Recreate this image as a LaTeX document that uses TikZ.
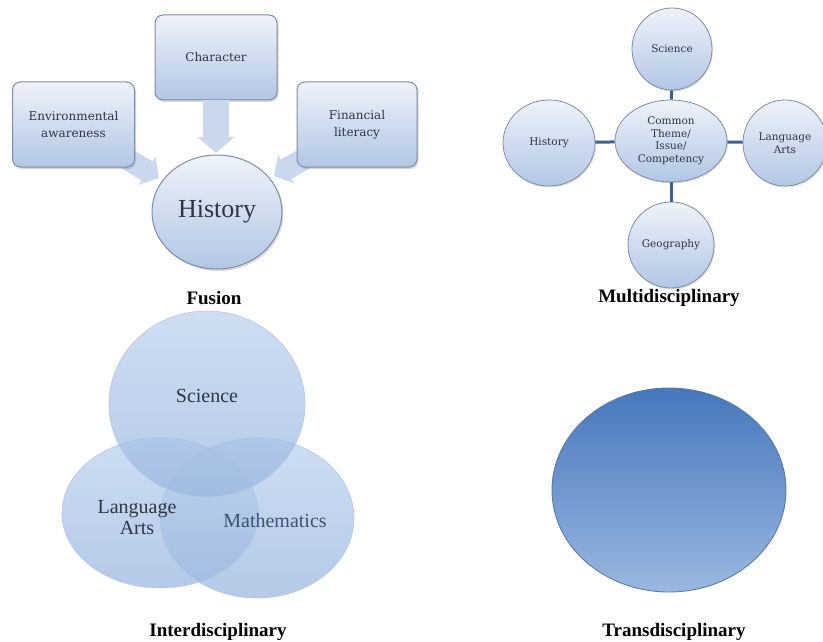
\documentclass[tikz,border=0pt]{standalone}
\usepackage{fontspec}
\setmainfont{Liberation Serif}
\newfontfamily\dserif{DejaVu Serif}
\usetikzlibrary{shapes.geometric,shadows,arrows.meta}
\definecolor{boxtop}{HTML}{EEF3FA}
\definecolor{boxbot}{HTML}{B2C6E4}
\definecolor{boxedge}{HTML}{7D8EA8}
\definecolor{arrowfill}{HTML}{CAD8ED}
\definecolor{txt}{HTML}{2E3644}
\definecolor{link}{HTML}{3F6090}
\definecolor{venntop}{HTML}{BED2ED}
\definecolor{vennbot}{HTML}{9BB7E1}
\definecolor{vennedge}{HTML}{B3C8E8}
\definecolor{mathtxt}{HTML}{3E5273}
\definecolor{transtop}{HTML}{4677BD}
\definecolor{transbot}{HTML}{9AB8E0}
\definecolor{transedge}{HTML}{5A7BA8}
\tikzset{
  fbox/.style={rectangle, rounded corners=8pt, draw=boxedge, line width=1pt,
    top color=boxtop, bottom color=boxbot, minimum width=122pt, minimum height=85pt,
    align=center, text=txt, font=\dserif\fontsize{12}{17}\selectfont,
    drop shadow={opacity=0.3, shadow xshift=1.5pt, shadow yshift=-2pt}},
  bigarrow/.style={line width=26pt, draw=arrowfill, -{Triangle[length=16pt,width=36pt]}},
  smallarrow/.style={line width=22pt, draw=arrowfill, -{Triangle[length=14pt,width=32pt]}},
  mell/.style={ellipse, draw=boxedge, line width=0.8pt, top color=boxtop, bottom color=boxbot,
    inner sep=0pt, align=center, text=txt, font=\dserif\fontsize{10.5}{12.5}\selectfont,
    drop shadow={opacity=0.25, shadow xshift=1pt, shadow yshift=-1.5pt}},
  mlink/.style={draw=link, line width=3pt},
  venn/.style={ellipse, inner sep=0pt, draw=vennedge, line width=0.6pt,
    top color=venntop, bottom color=vennbot, fill opacity=0.75},
  vlabel/.style={align=center, text=txt, font=\fontsize{20}{21}\selectfont},
  caption/.style={font=\bfseries\fontsize{19}{22}\selectfont, text=black}
}
\begin{document}
\begin{tikzpicture}[x=1pt,y=-1pt]
\useasboundingbox (0,0) rectangle (823,642);

% ---------------- Fusion ----------------
\coordinate (tipdown) at (216,153);
\coordinate (startl) at (112,150);
\coordinate (tipl) at (159,178);
\coordinate (startr) at (320,150);
\coordinate (tipr) at (274,176);
\draw[smallarrow] (startl) -- (tipl);
\draw[smallarrow] (startr) -- (tipr);
\node[fbox] (char) at (216,57.5) {Character};
\draw[bigarrow] (char.south) -- (tipdown);
\node[fbox] (env) at (73.5,124.5) {Environmental\\awareness};
\node[fbox, minimum width=120pt] (fin) at (357,124.5) {Financial\\literacy};
\node[ellipse, draw=boxedge, line width=1pt, top color=boxtop, bottom color=boxbot,
  minimum width=130pt, minimum height=114pt, inner sep=0pt, text=txt,
  font=\fontsize{26}{28}\selectfont,
  drop shadow={opacity=0.3, shadow xshift=1.5pt, shadow yshift=-2pt}] (hist) at (217,212) {History};
\node[caption] (fusion) at (214,298) {Fusion};

% ---------------- Multidisciplinary ----------------
\node[mell, minimum width=112pt, minimum height=82pt] (common) at (671,141) {Common\\Theme/\\Issue/\\Competency};
\node[mell, minimum width=80pt, minimum height=82pt] (msci) at (672,49) {Science};
\node[mell, minimum width=92pt, minimum height=86pt] (mhist) at (549,143) {History};
\node[mell, minimum width=84pt, minimum height=86pt] (mlang) at (785,143) {Language\\Arts};
\node[mell, minimum width=86pt, minimum height=86pt] (mgeo) at (671,245) {Geography};
\draw[mlink] (common) -- (msci);
\draw[mlink] (common) -- (mhist);
\draw[mlink] (common) -- (mlang);
\draw[mlink] (common) -- (mgeo);
\node[caption] (multi) at (669,298) {Multidisciplinary};

% ---------------- Interdisciplinary ----------------
\node[venn, minimum width=196pt, minimum height=150pt] (vlang) at (160,513) {};
\node[venn, minimum width=194pt, minimum height=160pt] (vmath) at (257,518) {};
\node[venn, minimum width=196pt, minimum height=186pt] (vsci) at (207,404) {};
\node[vlabel] (lsci) at (207,396) {Science};
\node[vlabel] (llang) at (137,518) {Language\\Arts};
\node[vlabel, text=mathtxt] (lmath) at (275,521) {Mathematics};
\node[caption] (inter) at (218,632) {Interdisciplinary};

% ---------------- Transdisciplinary ----------------
\node[ellipse, draw=transedge, line width=0.9pt, top color=transtop, bottom color=transbot,
  minimum width=234pt, minimum height=204pt, inner sep=0pt] (trans) at (669,490) {};
\node[caption] (transcap) at (674,632) {Transdisciplinary};
\end{tikzpicture}
\end{document}
